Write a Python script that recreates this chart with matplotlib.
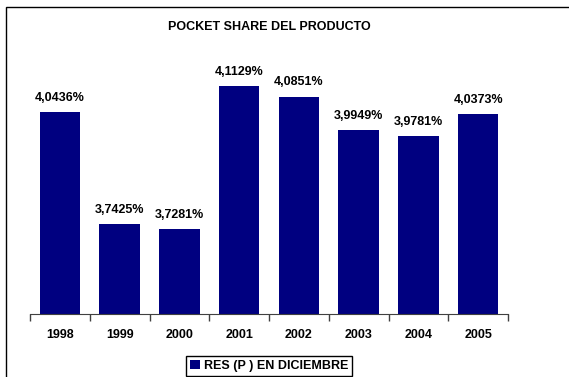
import matplotlib.pyplot as plt
from matplotlib.patches import Rectangle
import numpy as np

years = ["1998", "1999", "2000", "2001", "2002", "2003", "2004", "2005"]
pocket_share = [4.0436, 3.7425, 3.7281, 4.1129, 4.0851, 3.9949, 3.9781, 4.0373]
series_name = "RES (P ) EN DICIEMBRE"
title = "POCKET SHARE DEL PRODUCTO"

plt.rcParams['font.family'] = ['Liberation Sans', 'DejaVu Sans']
plt.rcParams['font.weight'] = 'bold'

W, H = 569, 377
fig = plt.figure(figsize=(W / 100, H / 100), dpi=100)
ax = fig.add_axes([30 / W, 1 - 314 / H, (508 - 30) / W, (314 - 54) / H])

# outer chart frame (cropped on the right and bottom, as in the original)
fig.patches.append(Rectangle((6 / W, -0.2), 1.2, 1.2 - 7 / H + 0.0, transform=fig.transFigure,
                             fill=False, edgecolor='black', linewidth=1.0))

index = np.arange(len(years))
bars = ax.bar(index, pocket_share, 0.68, color='#000080', label=series_name)

for x, v in zip(index, pocket_share):
    ax.annotate(f"{v:.4f}".replace('.', ',') + "%", (x, v), xytext=(0, 6),
                textcoords='offset points', ha='center', va='bottom',
                fontsize=9, fontweight='bold')

ax.set_xlim(-0.5, len(years) - 0.5)
ax.set_ylim(3.5, 4.2)
ax.set_xticks(index)
ax.set_xticklabels(years, fontsize=9, fontweight='bold')
ax.tick_params(axis='x', which='major', length=0, pad=11)
ax.set_xticks(np.arange(len(years) + 1) - 0.5, minor=True)
ax.tick_params(axis='x', which='minor', length=5, width=1, color='#404040', direction='out')
ax.set_yticks([])
for side in ['left', 'right', 'top']:
    ax.spines[side].set_visible(False)
ax.spines['bottom'].set_color('#404040')

fig.text(269 / W, 1 - 27 / H, title, ha='center', va='center', fontsize=9, fontweight='bold')

fig.legend(loc='upper center', bbox_to_anchor=(269 / W, 1 - 356 / H), fancybox=False,
           edgecolor='black', framealpha=1, fontsize=9, handlelength=0.8, handleheight=0.8,
           handletextpad=0.3, borderpad=0.3, borderaxespad=0)
fig.legends[0].get_frame().set_linewidth(1.0)

fig.savefig('out.png', dpi=100)
